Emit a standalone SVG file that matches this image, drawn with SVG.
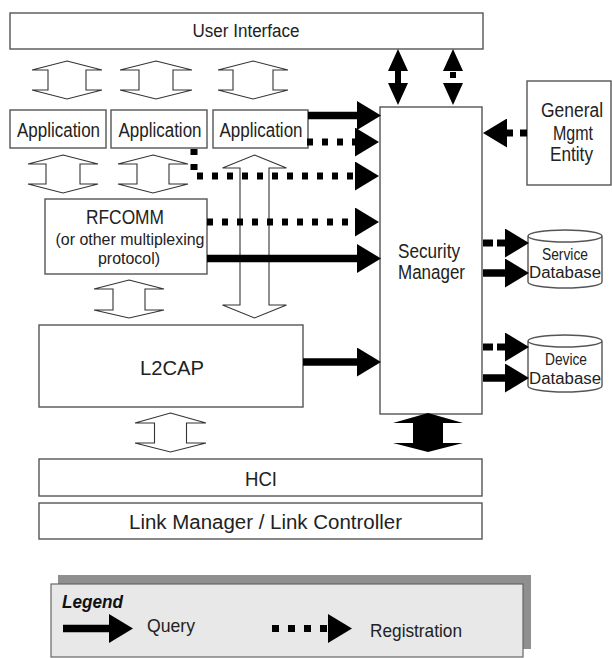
<svg xmlns="http://www.w3.org/2000/svg" width="612" height="658" viewBox="0 0 612 658">
<style>
.box{fill:#fff;stroke:#555;stroke-width:1.4}
.t{font-family:"Liberation Sans",Arial,sans-serif;fill:#222;text-anchor:middle}
.hollow{fill:#fff;stroke:#333;stroke-width:1.1;stroke-linejoin:miter}
.q{fill:none;stroke:#000;stroke-width:7.5}
.r{fill:none;stroke:#000;stroke-width:7;stroke-dasharray:6 9}
</style>
<defs>
<marker id="hd" markerUnits="userSpaceOnUse" viewBox="0 0 24 29" markerWidth="24" markerHeight="29" refX="0" refY="14.5" orient="auto"><path d="M0,0 L24,14.5 L0,29 Z" fill="#000"/></marker>
<marker id="hs" markerUnits="userSpaceOnUse" viewBox="0 0 22 20" markerWidth="22" markerHeight="20" refX="0" refY="10" orient="auto-start-reverse"><path d="M0,0 L22,10 L0,20 Z" fill="#000"/></marker>
</defs>

<g id="ui"><rect class="box" x="10" y="13" width="473" height="36"/><text class="t" x="246" y="37" font-size="18" textLength="107" lengthAdjust="spacingAndGlyphs">User Interface</text></g>
<g id="app1"><rect class="box" x="10" y="110" width="96" height="38"/><text class="t" x="58.5" y="137" font-size="20" textLength="83" lengthAdjust="spacingAndGlyphs">Application</text></g>
<g id="app2"><rect class="box" x="111" y="110" width="96" height="38"/><text class="t" x="160" y="137" font-size="20" textLength="83" lengthAdjust="spacingAndGlyphs">Application</text></g>
<g id="app3"><rect class="box" x="213" y="110" width="95" height="38"/><text class="t" x="261" y="137" font-size="20" textLength="83" lengthAdjust="spacingAndGlyphs">Application</text></g>
<g id="rfcomm"><rect class="box" x="45" y="199" width="162" height="75"/>
<text class="t" x="125" y="224" font-size="20" textLength="78" lengthAdjust="spacingAndGlyphs">RFCOMM</text>
<text class="t" x="130" y="245" font-size="16" textLength="149" lengthAdjust="spacingAndGlyphs">(or other multiplexing</text>
<text class="t" x="129" y="264" font-size="16" textLength="62" lengthAdjust="spacingAndGlyphs">protocol)</text></g>
<g id="l2cap"><rect class="box" x="39" y="325" width="264" height="82"/><text class="t" x="172" y="375" font-size="21" textLength="64" lengthAdjust="spacingAndGlyphs">L2CAP</text></g>
<g id="sm"><rect class="box" x="380" y="107" width="102" height="307"/>
<text class="t" x="429" y="258" font-size="20" textLength="62" lengthAdjust="spacingAndGlyphs">Security</text>
<text class="t" x="431.5" y="279" font-size="20" textLength="67" lengthAdjust="spacingAndGlyphs">Manager</text></g>
<g id="gme"><rect class="box" x="527" y="81" width="84" height="104"/>
<text class="t" x="572" y="117" font-size="20" textLength="62" lengthAdjust="spacingAndGlyphs">General</text>
<text class="t" x="573" y="140" font-size="20" textLength="40" lengthAdjust="spacingAndGlyphs">Mgmt</text>
<text class="t" x="571.5" y="161" font-size="20" textLength="43" lengthAdjust="spacingAndGlyphs">Entity</text></g>
<g id="servicedb"><path class="box" d="M528,236 A37,6 0 0,1 602,236 V282 A37,6 0 0,1 528,282 Z M528,236 A37,6 0 0,0 602,236"/>
<text class="t" x="565" y="260" font-size="16" textLength="46" lengthAdjust="spacingAndGlyphs">Service</text>
<text class="t" x="565" y="278" font-size="16" textLength="72" lengthAdjust="spacingAndGlyphs">Database</text></g>
<g id="devicedb"><path class="box" d="M528,341 A37,6 0 0,1 602,341 V386 A37,6 0 0,1 528,386 Z M528,341 A37,6 0 0,0 602,341"/>
<text class="t" x="566" y="365" font-size="16" textLength="42" lengthAdjust="spacingAndGlyphs">Device</text>
<text class="t" x="565" y="384" font-size="16" textLength="72" lengthAdjust="spacingAndGlyphs">Database</text></g>
<g id="hci"><rect class="box" x="39" y="459" width="443" height="37"/><text class="t" x="261" y="486" font-size="21" textLength="32" lengthAdjust="spacingAndGlyphs">HCI</text></g>
<g id="lmlc"><rect class="box" x="39" y="503" width="443" height="36"/><text class="t" x="265.5" y="529" font-size="20" textLength="273" lengthAdjust="spacingAndGlyphs">Link Manager / Link Controller</text></g>

<g id="connectors">
<path class="hollow" d="M67,61 L102,70 L86,70 L86,90 L102,90 L67,99 L32,90 L48,90 L48,70 L32,70 Z"/>
<path class="hollow" d="M156,61 L192,70 L173,70 L173,90 L192,90 L156,99 L120,90 L139,90 L139,70 L120,70 Z"/>
<path class="hollow" d="M253,61 L288,70 L273,70 L273,90 L288,90 L253,99 L218,90 L233,90 L233,70 L218,70 Z"/>
<path class="hollow" d="M63,155 L98,164 L80,164 L80,184 L98,184 L63,193 L28,184 L46,184 L46,164 L28,164 Z"/>
<path class="hollow" d="M153,155 L188,164 L169,164 L169,184 L188,184 L153,193 L118,184 L137,184 L137,164 L118,164 Z"/>
<path class="hollow" d="M254.5,155 L286.5,168 L269,168 L269,305 L286.5,305 L254.5,318 L222.5,305 L240,305 L240,168 L222.5,168 Z"/>
<path class="hollow" d="M129,280 L164,289 L145,289 L145,310 L164,310 L129,318 L94,310 L113,310 L113,289 L94,289 Z"/>
<path class="hollow" d="M170.5,413 L206,423 L186.5,423 L186.5,443 L206,443 L170.5,452 L135,443 L154.5,443 L154.5,423 L135,423 Z"/>
<path fill="#000" d="M428,413 L463,423 L443,423 L443,443 L463,443 L428,452 L393,443 L413,443 L413,423 L393,423 Z"/>
<path fill="none" stroke="#000" stroke-width="6" d="M398,71 V83" marker-start="url(#hs)" marker-end="url(#hs)"/>
<path fill="none" stroke="#000" stroke-width="6" stroke-dasharray="0 1 6 100" d="M453,71 V83" marker-start="url(#hs)" marker-end="url(#hs)"/>
<path class="q" d="M308,115.5 H357" marker-end="url(#hd)"/>
<path class="r" d="M307,142 H355" marker-end="url(#hd)"/>
<path class="r" d="M194,149 V176 H355" marker-end="url(#hd)"/>
<path class="r" d="M207,222 H355" marker-end="url(#hd)"/>
<path class="q" d="M207,258.5 H357" marker-end="url(#hd)"/>
<path class="q" d="M303,362 H357" marker-end="url(#hd)"/>
<path class="r" style="stroke-dasharray:7 7" d="M527,133 H507" marker-end="url(#hd)"/>
<path class="r" style="stroke-dasharray:10 4" d="M483,243 H505" marker-end="url(#hd)"/>
<path class="q" d="M483,273 H505" marker-end="url(#hd)"/>
<path class="r" style="stroke-dasharray:10 4" d="M483,347 H505" marker-end="url(#hd)"/>
<path class="q" d="M483,378 H505" marker-end="url(#hd)"/>
</g>

<g id="legend">
<rect x="58" y="575" width="473" height="74" fill="#8f8f8f"/>
<rect x="51" y="584" width="472" height="73" fill="#e8e8e8" stroke="#666" stroke-width="1.2"/>
<text x="62" y="608" font-family="Liberation Sans,Arial,sans-serif" font-size="18" font-weight="bold" font-style="italic" fill="#111" textLength="61" lengthAdjust="spacingAndGlyphs">Legend</text>
<path class="q" stroke-width="8" d="M63,628.5 H109" marker-end="url(#hd)"/>
<text x="147" y="632" font-family="Liberation Sans,Arial,sans-serif" font-size="19" fill="#222" textLength="48" lengthAdjust="spacingAndGlyphs">Query</text>
<path class="r" style="stroke-dasharray:7 9" d="M272,628.5 H328" marker-end="url(#hd)"/>
<text x="370" y="637" font-family="Liberation Sans,Arial,sans-serif" font-size="19" fill="#222" textLength="92" lengthAdjust="spacingAndGlyphs">Registration</text>
</g>
</svg>
